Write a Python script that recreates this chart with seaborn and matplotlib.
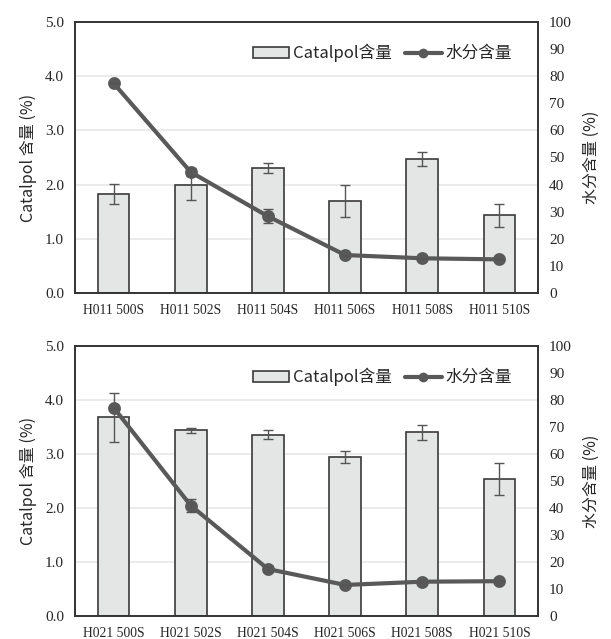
import numpy as np
import pandas as pd
import matplotlib
matplotlib.use('Agg')
import matplotlib.pyplot as plt
import seaborn as sns
from matplotlib.patches import Patch
from matplotlib.lines import Line2D

# data
samples_top = ['H011 500S', 'H011 502S', 'H011 504S', 'H011 506S', 'H011 508S', 'H011 510S']
catalpol_top = [1.83, 1.99, 2.30, 1.70, 2.47, 1.43]
catalpol_err_top = [0.18, 0.27, 0.09, 0.29, 0.13, 0.22]
water_top = [77.4, 44.6, 28.3, 14.0, 12.8, 12.4]
water_err_top = [0.0, 1.5, 2.6, 0.0, 0.0, 0.0]

samples_bot = ['H021 500S', 'H021 502S', 'H021 504S', 'H021 506S', 'H021 508S', 'H021 510S']
catalpol_bot = [3.68, 3.44, 3.36, 2.94, 3.40, 2.54]
catalpol_err_bot = [0.45, 0.05, 0.08, 0.11, 0.14, 0.30]
water_bot = [77.2, 40.9, 17.4, 11.5, 12.7, 12.9]
water_err_bot = [0.0, 2.4, 1.0, 0.0, 0.0, 0.0]

bar_fill = '#e4e6e6'
edge_col = '#3a3a3a'
line_col = '#595959'
cjk = ['Noto Sans CJK SC', 'DejaVu Sans']
serif = ['Liberation Serif', 'DejaVu Serif']

sns.set_style('white')
plt.rcParams['font.family'] = cjk

fig = plt.figure(figsize=(6.11, 6.39), dpi=100)
boxes = [[0.1228, 0.5415, 0.7577, 0.4241], [0.1228, 0.036, 0.7577, 0.4225]]
panels = [
    (samples_top, catalpol_top, catalpol_err_top, water_top, water_err_top),
    (samples_bot, catalpol_bot, catalpol_err_bot, water_bot, water_err_bot),
]

for box, (samples, cat, cat_err, water, water_err) in zip(boxes, panels):
    ax = fig.add_axes(box)
    df = pd.DataFrame({'Sample': samples, 'Catalpol': cat, 'Water': water})
    sns.barplot(data=df, x='Sample', y='Catalpol', color=bar_fill, edgecolor=edge_col,
                linewidth=1.2, width=0.41, saturation=1, errorbar=None, ax=ax)
    ax.errorbar(np.arange(len(samples)), cat, yerr=cat_err, fmt='none',
                ecolor='#555555', elinewidth=1.0, capsize=3.5, capthick=1.0)
    ax.set_ylim(0, 5)
    ax.set_yticks(np.arange(0, 5.01, 1.0))
    ax.set_yticklabels([f'{v:.1f}' for v in np.arange(0, 5.01, 1.0)], family=serif, fontsize=11)
    ax.set_xticks(range(len(samples)))
    ax.set_xticklabels(samples, family=serif, fontsize=9.8)
    ax.set_xlabel('')
    ax.set_ylabel('Catalpol 含量 (%)', fontsize=11.5, labelpad=6)
    ax.yaxis.grid(True, color='#e8e8e8', linewidth=1.2)
    ax.set_axisbelow(True)
    ax.tick_params(length=0, pad=8)
    ax.set_xlim(-0.5, len(samples) - 0.5)

    ax2 = ax.twinx()
    sns.pointplot(data=df, x='Sample', y='Water', color=line_col, markers='o',
                  markersize=7, linewidth=3, errorbar=None, ax=ax2)
    ax2.errorbar(np.arange(len(samples)), water, yerr=water_err, fmt='none',
                 ecolor='#555555', elinewidth=1.0, capsize=3.5, capthick=1.0)
    ax2.set_ylim(0, 100)
    ax2.set_yticks(np.arange(0, 101, 10))
    ax2.set_yticklabels([str(v) for v in range(0, 101, 10)], family=serif, fontsize=11)
    ax2.set_ylabel('水分含量 (%)', fontsize=11.5, labelpad=8)
    ax2.tick_params(length=0, pad=8)
    ax2.set_xlim(-0.5, len(samples) - 0.5)
    for a in (ax, ax2):
        for s in a.spines.values():
            s.set_color('#333333')
            s.set_linewidth(1.2)

    handles = [Patch(facecolor=bar_fill, edgecolor=edge_col, linewidth=1.2),
               Line2D([0], [0], color=line_col, linewidth=3, marker='o', markersize=6)]
    ax2.legend(handles, ['Catalpol含量', '水分含量'], loc='upper right', ncol=2,
               frameon=False, fontsize=12, bbox_to_anchor=(0.975, 0.975),
               handlelength=2.2, handleheight=0.6, columnspacing=0.8, handletextpad=0.2)

fig.savefig('out.png', dpi=100)
